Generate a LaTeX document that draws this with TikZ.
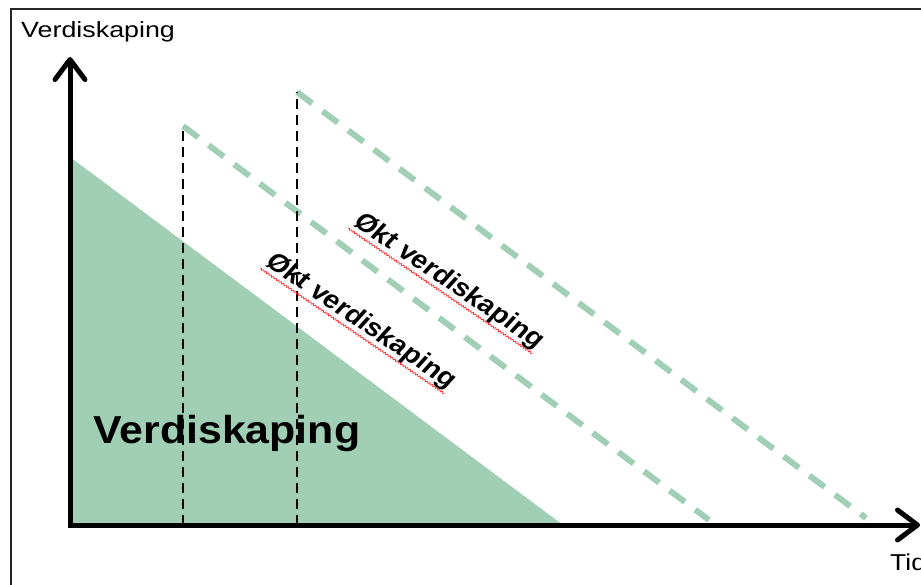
\documentclass[tikz,border=0pt]{standalone}
\usepackage{fontspec}
\setmainfont{Liberation Sans}
\usetikzlibrary{arrows.meta,decorations.pathmorphing}
\definecolor{vgreen}{RGB}{161,207,182}
\begin{document}
\begin{tikzpicture}[x=1pt,y=-1pt,
  axis/.style={line width=5pt, -{Straight Barb[length=20pt,width=30pt,line join=round,line cap=round]}},
  guide/.style={line width=1.8pt, dash pattern=on 10pt off 6pt},
  shiftline/.style={vgreen, line width=6pt, dash pattern=on 19pt off 13pt},
  lbl/.style={font=\fontsize{25}{30}\selectfont\bfseries, inner sep=0pt, anchor=base west, xscale=1.15, rotate=-38},
  squiggle/.style={red!85, line width=0.7pt, decorate, decoration={snake, amplitude=0.9pt, segment length=3pt}}
]
\useasboundingbox (0,0) rectangle (921,584);
\fill[white] (0,0) rectangle (921,584);
\draw[line width=1.5pt, black!85] (11,9) rectangle (940,600);

% coordinates
\coordinate (top) at (70,157);
\coordinate (o) at (70,525);
\coordinate (end) at (563,525);
\coordinate (yend) at (70,57);
\coordinate (xstart) at (67.5,525);
\coordinate (xend) at (920,525);
\coordinate (a0) at (183,525);
\coordinate (a1) at (183,126);
\coordinate (a2) at (709,520);
\coordinate (b0) at (297,525);
\coordinate (b1) at (297,92);
\coordinate (b2) at (866,518);

% value area
\fill[vgreen] (top) -- (o) -- (end) -- cycle;

% shifted lines
\draw[shiftline] (a1) -- (a2);
\draw[shiftline] (b1) -- (b2);

% guides
\draw[guide] (a0) -- (a1);
\draw[guide] (b0) -- (b1);

% axes
\draw[axis] ([yshift=-2.5pt]o) -- (yend);
\draw[axis] (xstart) -- (xend);

% texts
\node[font=\fontsize{22}{26}\selectfont, anchor=base west, inner sep=0pt, xscale=1.22] (ylab) at (21,37) {Verdiskaping};
\node[font=\fontsize{23}{27}\selectfont, anchor=base west, inner sep=0pt, xscale=1.15] (xlab) at (890,570) {Tid};
\node[font=\fontsize{39}{44}\selectfont\bfseries, anchor=base west, inner sep=0pt, xscale=1.1] (area) at (93,443) {Verdiskaping};

\node[lbl] (l1) at (264,264) {Økt verdiskaping};
\node[lbl] (l2) at (352,224) {Økt verdiskaping};
\draw[squiggle] (l1.south west) -- (l1.south east);
\draw[squiggle] (l2.south west) -- (l2.south east);
\end{tikzpicture}
\end{document}
